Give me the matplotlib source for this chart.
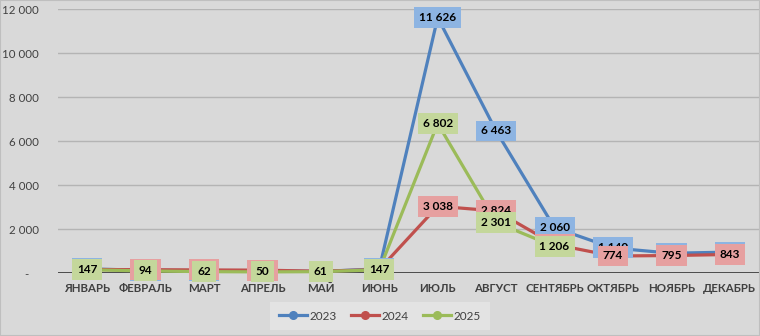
import matplotlib.pyplot as plt
from matplotlib.patches import Rectangle

plt.rcParams['font.family'] = ['Lato', 'DejaVu Sans']

MONTHS = ['ЯНВАРЬ', 'ФЕВРАЛЬ', 'МАРТ', 'АПРЕЛЬ', 'МАЙ', 'ИЮНЬ', 'ИЮЛЬ',
          'АВГУСТ', 'СЕНТЯБРЬ', 'ОКТЯБРЬ', 'НОЯБРЬ', 'ДЕКАБРЬ']
Y2023 = [190, 120, 110, 100, 70, 190, 11626, 6463, 2060, 1140, 900, 950]
Y2024 = [160, 150, 140, 130, 80, 160, 3038, 2824, 1300, 774, 795, 843]
Y2025 = [147, 94, 62, 50, 61, 147, 6802, 2301, 1206]
YEARS = ['2023', '2024', '2025']
Y_TICKS = [0, 2000, 4000, 6000, 8000, 10000, 12000]

LINE_COLORS = ['#4F81BD', '#C0504D', '#9BBB59']
BOX_COLORS = ['#8DB4E2', '#E6A0A0', '#C4D79B']


def fmt(v):
    return f'{v:,}'.replace(',', ' ')


fig = plt.figure(figsize=(7.6, 3.36), dpi=100)
fig.patch.set_facecolor('#D9D9D9')
fig.patches.append(Rectangle((0, 0), 1, 1, transform=fig.transFigure,
                             fill=False, edgecolor='#BFBFBF', linewidth=1.5))

ax = fig.add_axes([58 / 760, 1 - 273 / 336, 701 / 760, 263.7 / 336])
ax.set_facecolor('#D9D9D9')

series = [Y2023, Y2024, Y2025]
for i, (name, vals) in enumerate(zip(YEARS, series)):
    xs = list(range(len(vals)))
    ax.plot(xs, vals, color=LINE_COLORS[i], linewidth=2.3, marker='o',
            markersize=11, label=name, zorder=3 + i, clip_on=False)

# data labels on top of all lines, later series above earlier ones
for i, vals in enumerate(series):
    for x, v in enumerate(vals):
        ax.text(x, v, fmt(v), ha='center', va='center', fontsize=8.5,
                fontweight='bold', color='black', zorder=10 + i,
                bbox=dict(boxstyle='square,pad=0.42', facecolor=BOX_COLORS[i],
                          edgecolor='none'))

ax.set_xlim(-0.5, 11.5)
ax.set_ylim(0, 12000)
ax.set_yticks(Y_TICKS)
ax.set_yticklabels(['-   '] + [fmt(t) for t in Y_TICKS[1:]])
ax.set_xticks(range(len(MONTHS)))
ax.set_xticklabels(MONTHS, fontweight='bold')
ax.tick_params(axis='both', length=0, labelsize=8.3, colors='#404040')
ax.tick_params(axis='y', pad=14)
ax.tick_params(axis='x', pad=7)
ax.grid(axis='y', color='#B4B4B4', linewidth=1)
ax.set_axisbelow(True)
for s in ax.spines.values():
    s.set_visible(False)
ax.axhline(0, color='#404040', linewidth=2, zorder=2)

leg = fig.legend(loc='center', bbox_to_anchor=(380 / 760, 1 - 316 / 336),
                 ncol=3, frameon=True, fontsize=8.5, markerscale=0.5,
                 handlelength=2.4, handletextpad=0.2, columnspacing=1.2,
                 borderpad=0.45)
leg.get_frame().set_facecolor('#E6E6E6')
leg.get_frame().set_edgecolor('none')
leg.get_frame().set_boxstyle('square')
for t in leg.get_texts():
    t.set_color('#404040')

fig.savefig('out.png', dpi=100, facecolor=fig.get_facecolor())
